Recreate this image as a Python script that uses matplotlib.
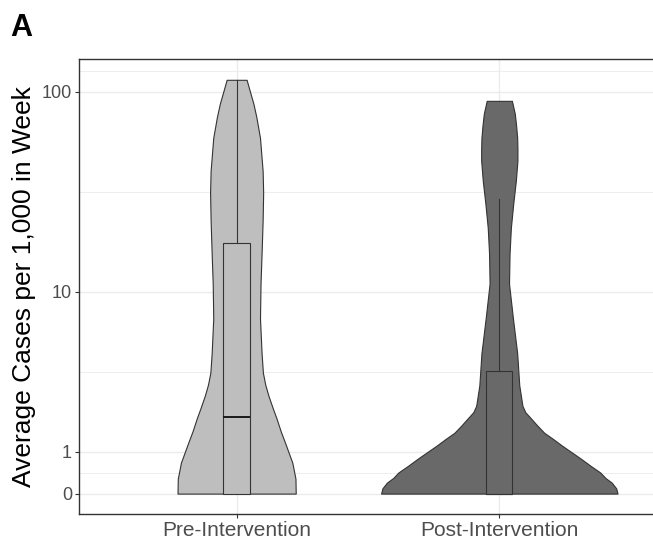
import numpy as np
import matplotlib
matplotlib.use("Agg")
import matplotlib.pyplot as plt

# groups on the x axis
groups = ["Pre-Intervention", "Post-Intervention"]
fills = ["#bebebe", "#696969"]

# violin outlines: case levels and half-widths (in category units)
pre_levels = [0, 0.345, 0.725, 1.24, 1.55, 1.94, 2.3, 2.75, 3.2, 3.75, 4.8, 7.3, 11.0,
              15.6, 22.8, 31.5, 40.4, 59.0, 75.0, 87.2, 100.0, 114.8]
pre_halfw = [0.225, 0.224, 0.212, 0.184, 0.168, 0.152, 0.137, 0.121, 0.109, 0.100, 0.095,
             0.089, 0.091, 0.095, 0.099, 0.101, 0.099, 0.089, 0.075, 0.064, 0.051, 0.038]

post_levels = [0, 0.12, 0.252, 0.36, 0.49, 0.65, 0.82, 1.16, 1.35, 1.51, 1.72, 1.94, 2.15,
               2.37, 3.17, 4.8, 7.3, 11.0, 15.6, 21.0, 27.7, 36.1, 45.4, 52.0, 59.0, 68.0,
               77.8, 90.2]
post_halfw = [0.45, 0.445, 0.428, 0.404, 0.384, 0.347, 0.311, 0.238, 0.202, 0.171, 0.145,
              0.121, 0.099, 0.088, 0.076, 0.068, 0.052, 0.037, 0.039, 0.044, 0.053, 0.063,
              0.069, 0.069, 0.068, 0.064, 0.059, 0.048]

# boxplot summaries
q1 = [0, 0]
med = [2.0, 0]
q3 = [17.6, 3.85]
whis_lo = [0, 0]
whis_hi = [114.8, 29.2]

yticks = [0, 1, 10, 100]

plt.rcParams['font.family'] = ['Liberation Sans', 'DejaVu Sans']

fig = plt.figure(figsize=(6.53, 5.40), dpi=100)
ax = fig.add_axes([0.121, 0.0476, 0.885, 0.843])
ax.set_yscale('asinh', linear_width=2)

pos = [1, 2]
outlines = [(pre_levels, pre_halfw), (post_levels, post_halfw)]
for p, (lv, hw), col in zip(pos, outlines, fills):
    hw = np.array(hw)
    ax.fill_betweenx(lv, p - hw, p + hw, facecolor=col, edgecolor='#333333',
                     linewidth=0.8, zorder=2)

stats = []
for i in range(2):
    stats.append(dict(med=med[i], q1=q1[i], q3=q3[i], whislo=whis_lo[i],
                      whishi=whis_hi[i], fliers=[]))
bp = ax.bxp(stats, positions=pos, widths=0.1, showcaps=False, showfliers=False,
            patch_artist=True, manage_ticks=False,
            boxprops=dict(edgecolor='#333333', linewidth=0.8),
            whiskerprops=dict(color='#333333', linewidth=0.8),
            medianprops=dict(color='#1a1a1a', linewidth=1.4))
for patch, col in zip(bp['boxes'], fills):
    patch.set_facecolor(col)
    patch.set_zorder(3)
for key in ['whiskers', 'medians']:
    for ln in bp[key]:
        ln.set_zorder(4)
# post median sits on the box floor
bp['medians'][1].set_linewidth(0.8)
bp['medians'][1].set_color('#333333')

ax.set_xlim(0.4, 2.6)
ax.set_ylim(-0.4788, 145.6)

# major and minor grid (minor halfway between majors in scale space)
ax.set_yticks(yticks)
ax.set_yticklabels([str(v) for v in yticks])
tr = ax.yaxis.get_transform()
t_major = tr.transform(np.array(yticks, dtype=float))
step = t_major[1] - t_major[0]
t_ext = np.append(t_major, t_major[-1] + step)
t_minor = (t_ext[:-1] + t_ext[1:]) / 2
minor_vals = tr.inverted().transform(t_minor)
ax.set_yticks(minor_vals, minor=True)
ax.tick_params(axis='y', which='minor', length=0)

ax.set_xticks(pos)
ax.set_xticklabels(groups)

ax.grid(True, which='major', color='#ebebeb', linewidth=1.0, zorder=0)
ax.grid(True, which='minor', axis='y', color='#ebebeb', linewidth=0.6, zorder=0)
ax.set_axisbelow(True)

for s in ax.spines.values():
    s.set_color('#333333')
    s.set_linewidth(1.0)

ax.tick_params(axis='both', which='major', length=3, color='#333333', width=0.8)
ax.tick_params(axis='y', labelsize=13, labelcolor='#4d4d4d', pad=2)
ax.tick_params(axis='x', labelsize=15, labelcolor='#4d4d4d', pad=2)

ax.set_ylabel("Average Cases per 1,000 in Week", fontsize=19, labelpad=4)

fig.text(0.015, 0.975, "A", fontsize=22, fontweight='bold', va='top', ha='left')

fig.savefig("out.png", dpi=100)
